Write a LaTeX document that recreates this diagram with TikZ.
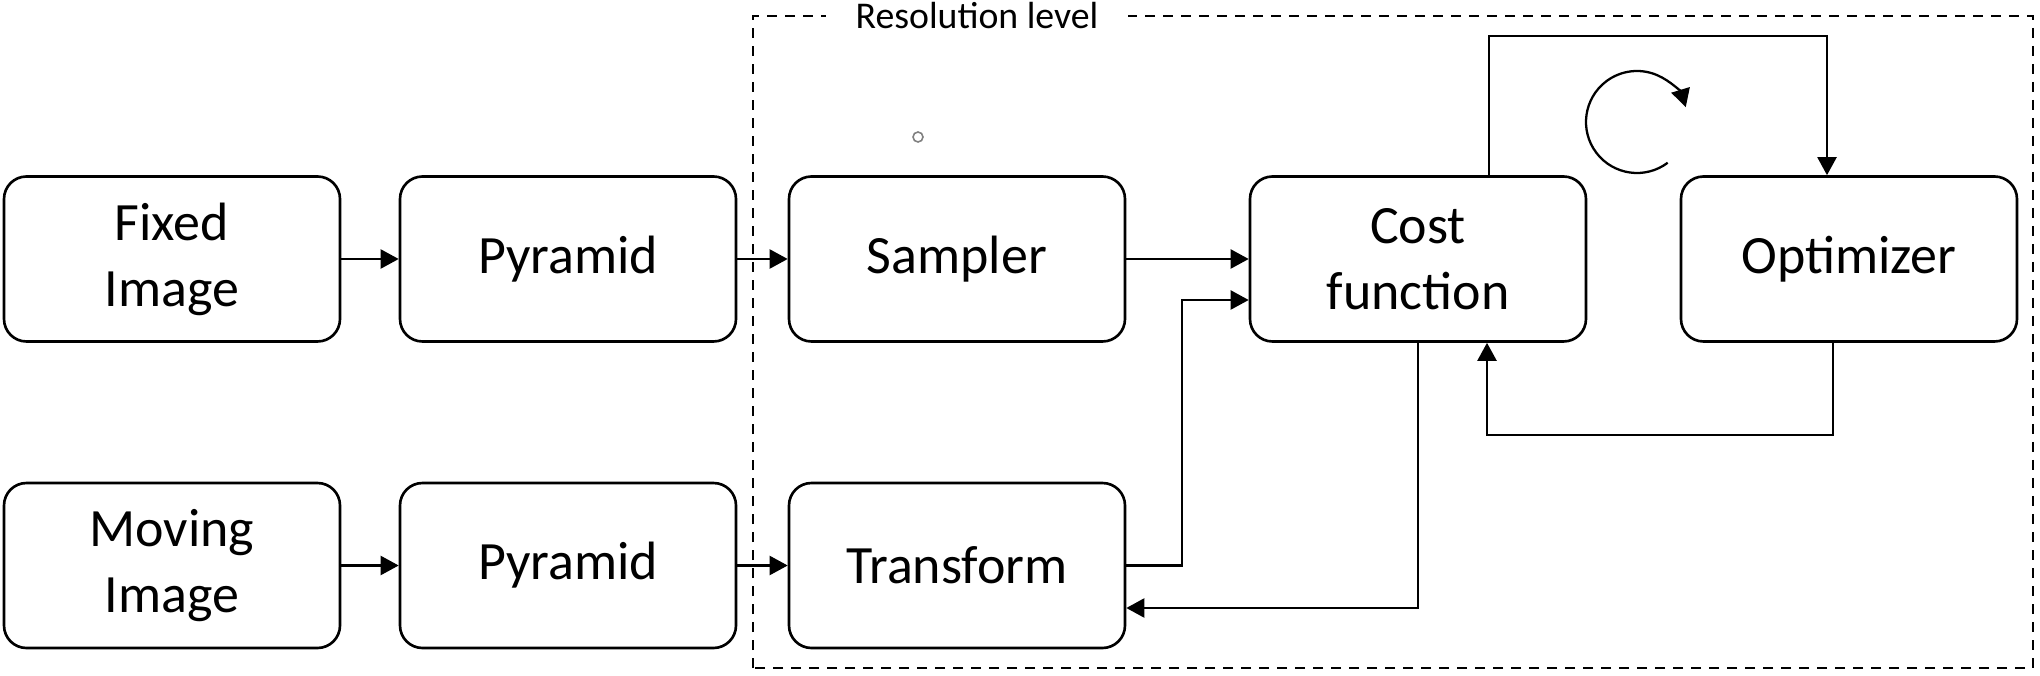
\documentclass[tikz,border=0pt]{standalone}
\usepackage{fontspec}
\setmainfont{Carlito}
\usetikzlibrary{arrows.meta,calc}
\tikzset{
  block/.style={draw=black, line width=1.5pt, rounded corners=0.45cm, minimum width=6.72cm, minimum height=3.3cm, align=center, font=\fontsize{30.7}{37.6}\selectfont},
  conn/.style={black, line width=1.3pt, -{Triangle[length=0.36cm,width=0.38cm]}}
}
\begin{document}
\begin{tikzpicture}
\useasboundingbox (0cm,0cm) rectangle (40.8cm,13.5cm);
\draw[black, line width=1.6pt, dash pattern=on 0.2cm off 0.16cm] (15.06cm,0.14cm) rectangle (40.66cm,13.18cm);
\node[fill=white, inner xsep=0.6cm, inner ysep=0pt, font=\fontsize{21.5}{26}\selectfont] (level) at (19.54cm,13.18cm) {Resolution level};
\node[block] (fixed) at (3.44cm,8.32cm) {Fixed\\Image};
\node[block] (pyrtop) at (11.36cm,8.32cm) {Pyramid};
\node[block] (sampler) at (19.14cm,8.32cm) {Sampler};
\node[block] (cost) at (28.36cm,8.32cm) {Cost\\function};
\node[block] (optim) at (36.98cm,8.32cm) {Optimizer};
\node[block] (moving) at (3.44cm,2.19cm) {Moving\\Image};
\node[block] (pyrbot) at (11.36cm,2.19cm) {Pyramid};
\node[block] (transform) at (19.14cm,2.19cm) {Transform};
\draw[conn] (fixed.east) -- (pyrtop.west);
\draw[conn] (pyrtop.east) -- (sampler.west);
\draw[conn] (sampler.east) -- (cost.west);
\draw[conn] (moving.east) -- (pyrbot.west);
\draw[conn] (pyrbot.east) -- (transform.west);
\draw[conn] (transform.east) -- ++(1.12cm,0) |- ([yshift=-0.82cm]cost.west);
\draw[conn] (cost.south) |- ([yshift=-0.85cm]transform.east);
\draw[conn] ([xshift=1.42cm]cost.north) -- ++(0,2.79cm) -| ([xshift=-0.44cm]optim.north);
\draw[conn] ([xshift=-0.32cm]optim.south) -- ++(0,-1.84cm) -| ([xshift=1.38cm]cost.south);
\draw[conn] (32.74cm,11.06cm) ++(-53:1.02cm) arc[start angle=-53, end angle=-343, radius=1.02cm];
\draw[gray, line width=0.9pt] (18.36cm,10.76cm) circle (0.1cm);
\end{tikzpicture}
\end{document}
